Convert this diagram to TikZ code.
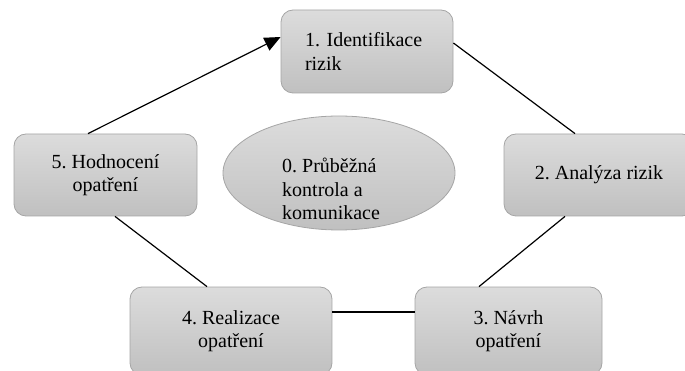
\documentclass[tikz,border=0pt]{standalone}
\usepackage{fontspec}
\setmainfont{Liberation Serif}
\usetikzlibrary{arrows.meta,shapes.geometric}
\definecolor{boxtop}{RGB}{220,220,220}
\definecolor{boxbot}{RGB}{192,192,192}
\definecolor{boxline}{RGB}{165,165,165}
\frenchspacing
\begin{document}
\begin{tikzpicture}[x=1pt, y=-1pt, line join=round, >={Triangle[length=16pt,width=14pt]}]

	\tikzset{step box/.style={draw=boxline, line width=0.8pt, rounded corners=12pt, top color=boxtop, bottom color=boxbot, font=\fontsize{20}{23.5}\selectfont, align=center, inner sep=0pt}}
	\tikzset{link/.style={line width=1.2pt}}

	\useasboundingbox (0,0) rectangle (685,371);
	\clip (0,0) rectangle (685,371);

	% the five steps round the circle
	\node[step box, text width=124pt, align=left, inner xsep=24pt, minimum height=83pt] (ident) at (367,51.5) {1. Identifikace\\rizik};
	\node[step box, minimum width=190pt, minimum height=82pt] (analysis) at (599,175) {2. Analýza rizik};
	\node[step box, minimum width=187pt, minimum height=88pt] (proposal) at (508.5,331) {3. Návrh\\opatření};
	\node[step box, minimum width=202pt, minimum height=88pt] (realize) at (231,331) {4. Realizace\\opatření};
	\node[step box, minimum width=183pt, minimum height=82pt] (evaluate) at (105.5,175) {5. Hodnocení\\opatření};

	% centre
	\node[ellipse, draw=boxline, line width=0.8pt, top color=boxtop, bottom color=boxbot, minimum width=232pt, minimum height=114pt] (control) at (339,173) {};
	\node[font=\fontsize{20}{23.5}\selectfont, align=left, anchor=west, inner sep=0pt] (controltext) at (282,189) {0. Průběžná\\kontrola a\\komunikace};

	\draw[link,->] ([xshift=-17.5pt]evaluate.north) -- ([yshift=14.5pt]ident.west);
	\draw[link] ([yshift=8.5pt]ident.east) -- ([xshift=-24pt]analysis.north);
	\draw[link] ([xshift=-34pt]analysis.south) -- ([xshift=-29.5pt]proposal.north);
	\draw[link] ([yshift=19pt]proposal.west) -- ([yshift=19pt]realize.east);
	\draw[link] ([xshift=-24pt]realize.north) -- ([xshift=9.5pt]evaluate.south);
\end{tikzpicture}
\end{document}
